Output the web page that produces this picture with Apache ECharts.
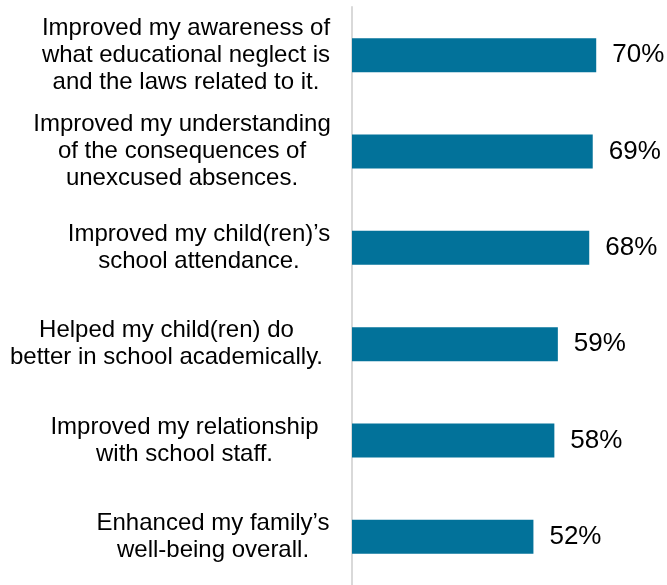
<!DOCTYPE html>
<html>
<head>
<meta charset="utf-8">
<script src="https://cdn.jsdelivr.net/npm/echarts@6/dist/echarts.min.js"></script>
<style>
  html, body { margin: 0; padding: 0; background: #ffffff; overflow: hidden; }
  #chart { width: 667px; height: 585px; }
</style>
</head>
<body>
<div id="chart"></div>
<script>
// Survey statements (each line of a statement is an entry)
var categories = [
  ['Improved my awareness of', 'what educational neglect is', 'and the laws related to it.'],
  ['Improved my understanding', 'of the consequences of', 'unexcused absences.'],
  ['Improved my child(ren)\u2019s', 'school attendance.'],
  ['Helped my child(ren) do', 'better in school academically.'],
  ['Improved my relationship', 'with school staff.'],
  ['Enhanced my family\u2019s', 'well-being overall.']
];

// Share of respondents agreeing (%)
var agreePct = [70, 69, 68, 59, 58, 52];

// Width of the centred text box used for each statement label
var labelBoxWidths = [288, 296, 262, 327, 291, 234];

var FONT = '"Liberation Sans", Arial, Helvetica, sans-serif';

var rich = {};
labelBoxWidths.forEach(function (w, i) {
  rich['c' + i] = {
    width: w,
    align: 'center',
    fontSize: 24,
    lineHeight: 27,
    fontFamily: FONT,
    color: '#000000'
  };
});

var catKeys = categories.map(function (lines, i) { return String(i); });

var chart = echarts.init(document.getElementById('chart'), null, { renderer: 'canvas' });

chart.setOption({
  backgroundColor: '#ffffff',
  animation: false,
  grid: {
    left: 352,
    top: 7,
    width: 314,
    height: 582,
    containLabel: false
  },
  xAxis: {
    type: 'value',
    min: 0,
    max: 90,
    show: false,
    splitLine: { show: false }
  },
  yAxis: {
    type: 'category',
    inverse: true,
    data: catKeys,
    axisLine: { show: true, lineStyle: { color: '#d9d9d9', width: 2 } },
    axisTick: { show: false },
    splitLine: { show: false },
    axisLabel: {
      align: 'right',
      margin: 22,
      rich: rich,
      formatter: function (value) {
        var i = Number(value);
        return categories[i].map(function (line) {
          return '{c' + i + '|' + line + '}';
        }).join('\n');
      }
    }
  },
  series: [{
    type: 'bar',
    data: agreePct,
    barWidth: 34,
    itemStyle: { color: '#02729a' },
    label: {
      show: true,
      position: 'right',
      distance: 16,
      formatter: '{c}%',
      fontSize: 26,
      fontFamily: FONT,
      color: '#000000'
    }
  }]
});
</script>
</body>
</html>
